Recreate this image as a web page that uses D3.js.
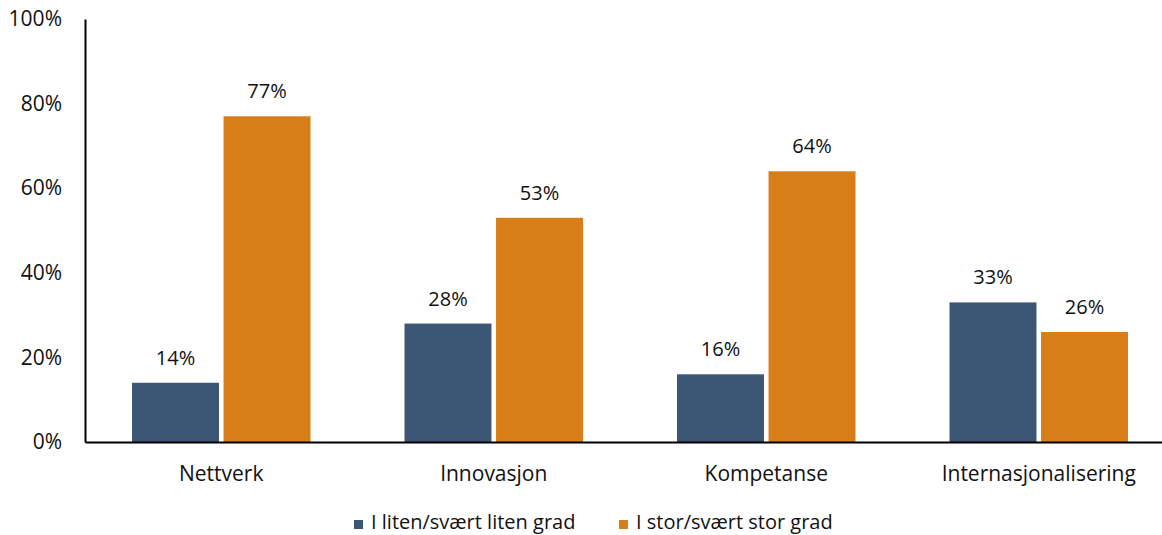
<!DOCTYPE html>
<html>
<head>
<meta charset="utf-8">
<script src="https://cdn.jsdelivr.net/npm/d3@7"></script>
<style>
  html, body { margin: 0; padding: 0; background: #fff; }
  svg { display: block; font-family: "Open Sans", "Noto Sans", sans-serif; }
</style>
</head>
<body>
<svg id="chart" width="1162" height="535"></svg>
<script>
// Andel som svarer i liten / stor grad per område
const categories = ["Nettverk", "Innovasjon", "Kompetanse", "Internasjonalisering"];
const seriesNames = ["I liten/svært liten grad", "I stor/svært stor grad"];
const litenGrad = [14, 28, 16, 33];
const storGrad = [77, 53, 64, 26];
const yTicks = [0, 20, 40, 60, 80, 100];
const colors = ["#3B5775", "#D77E18"];

const seriesValues = [litenGrad, storGrad];

const svg = d3.select("#chart");
const margin = { left: 85, right: -13, top: 19, bottom: 93 };
const W = 1162, H = 535;
const textColor = "#111";

const x = d3.scaleBand()
  .domain(categories)
  .range([margin.left, W - margin.right]);

// two bars per category, centred in the band
const groupPad = 47;
const xInner = d3.scaleBand()
  .domain(d3.range(seriesNames.length))
  .range([groupPad, x.bandwidth() - groupPad])
  .paddingInner(0.05)
  .paddingOuter(0);

const y = d3.scaleLinear()
  .domain([0, 100])
  .range([H - margin.bottom, margin.top]);

// Bars and value labels
categories.forEach((cat, ci) => {
  seriesValues.forEach((vals, si) => {
    const v = vals[ci];
    const bx = x(cat) + xInner(si);
    svg.append("rect")
      .attr("x", bx)
      .attr("y", y(v))
      .attr("width", xInner.bandwidth())
      .attr("height", y(0) - y(v))
      .attr("fill", colors[si]);
    svg.append("text")
      .attr("x", bx + xInner.bandwidth() / 2)
      .attr("y", y(v) - 18)
      .attr("text-anchor", "middle")
      .attr("font-size", 20)
      .attr("fill", textColor)
      .text(v + "%");
  });
});

// Y axis
const yAxis = d3.axisLeft(y)
  .tickValues(yTicks)
  .tickSize(0)
  .tickPadding(23)
  .tickFormat(d => d + "%");
const gy = svg.append("g")
  .attr("transform", `translate(${margin.left},0)`)
  .call(yAxis);
gy.select(".domain").attr("stroke", "#000").attr("stroke-width", 2);
gy.selectAll("text").attr("font-size", 21).attr("fill", textColor)
  .attr("font-family", "'Open Sans', sans-serif");

// X axis
const xAxis = d3.axisBottom(x).tickSize(0).tickPadding(24);
const gx = svg.append("g")
  .attr("transform", `translate(0,${y(0)})`)
  .call(xAxis);
gx.select(".domain").attr("stroke", "#000").attr("stroke-width", 2);
gx.selectAll("text").attr("font-size", 21).attr("fill", textColor)
  .attr("font-family", "'Open Sans', sans-serif");

// Legend
const legendX = [354, 619];
seriesNames.forEach((name, i) => {
  const g = svg.append("g").attr("transform", `translate(${legendX[i]},529)`);
  g.append("rect").attr("x", 0).attr("y", -9).attr("width", 9).attr("height", 9).attr("fill", colors[i]);
  g.append("text").attr("x", 17).attr("y", 0)
    .attr("font-size", 20).attr("fill", textColor).text(name);
});
</script>
</body>
</html>
